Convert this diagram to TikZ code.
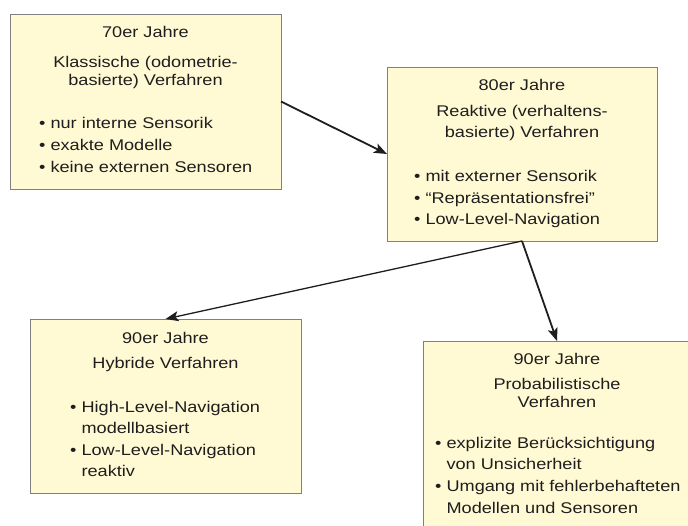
\documentclass[tikz,border=0pt]{standalone}
\usepackage{fontspec}
\setmainfont{Liberation Sans}[FakeStretch=1.17]
\usetikzlibrary{arrows.meta}
\definecolor{boxfill}{RGB}{255,249,212}
\definecolor{boxline}{RGB}{128,128,128}
\definecolor{ink}{RGB}{30,30,30}
\begin{document}
\begin{tikzpicture}[x=1pt,y=-1pt,
  box/.style={draw=boxline, fill=boxfill, line width=1pt, inner sep=0pt, outer sep=0pt},
  ttl/.style={anchor=base, inner sep=0pt, text=ink, font=\fontsize{15.5}{18}\selectfont},
  itm/.style={anchor=base west, inner sep=0pt, text=ink, font=\fontsize{15.5}{18}\selectfont},
  arr/.style={draw=ink, line width=1.8pt, -{Stealth[length=13pt,width=10pt,inset=3pt]}},
  arrthin/.style={arr, line width=1.3pt}]
\useasboundingbox (0,0) rectangle (688,525);
\clip (0,0) rectangle (688,525);
% boxes
\node[box, minimum width=271pt, minimum height=175pt] (b1) at (145.5,101.5) {};
\node[box, minimum width=270pt, minimum height=174pt] (b2) at (522,154) {};
\node[box, minimum width=271pt, minimum height=174pt] (b3) at (165.5,406) {};
\node[box, minimum width=268pt, minimum height=199pt] (b4) at (557,440.5) {};
% box 1
\node[ttl] (t1a) at (145.5,37) {70er Jahre};
\node[ttl] (t1b) at (145.5,67) {Klassische (odometrie-};
\node[ttl] (t1c) at (145.5,85) {basierte) Verfahren};
\node[itm] (i1a) at (39,128) {•\ nur interne Sensorik};
\node[itm] (i1b) at (39,150) {•\ exakte Modelle};
\node[itm] (i1c) at (39,172) {•\ keine externen Sensoren};
% box 2
\node[ttl] (t2a) at (522,90) {80er Jahre};
\node[ttl] (t2b) at (522,116) {Reaktive (verhaltens-};
\node[ttl] (t2c) at (522,137) {basierte) Verfahren};
\node[itm] (i2a) at (414,181) {•\ mit externer Sensorik};
\node[itm] (i2b) at (414,203) {•\ “Repräsentationsfrei”};
\node[itm] (i2c) at (414,224) {•\ Low-Level-Navigation};
% box 3
\node[ttl] (t3a) at (165.5,343) {90er Jahre};
\node[ttl] (t3b) at (165.5,368) {Hybride Verfahren};
\node[itm] (i3a) at (70,412) {•\ High-Level-Navigation};
\node[itm] (i3b) at (70,433) {\phantom{•\ }modellbasiert};
\node[itm] (i3c) at (70,455) {•\ Low-Level-Navigation};
\node[itm] (i3d) at (70,476) {\phantom{•\ }reaktiv};
% box 4
\node[ttl] (t4a) at (557,364) {90er Jahre};
\node[ttl] (t4b) at (557,389) {Probabilistische};
\node[ttl] (t4c) at (557,407) {Verfahren};
\node[itm] (i4a) at (435,448) {•\ explizite Berücksichtigung};
\node[itm] (i4b) at (435,469) {\phantom{•\ }von Unsicherheit};
\node[itm] (i4c) at (435,491) {•\ Umgang mit fehlerbehafteten};
\node[itm] (i4d) at (435,513) {\phantom{•\ }Modellen und Sensoren};
% arrows
\draw[arr] (b1.east) -- (b2.west);
\draw[arrthin] (b2.south) -- (b3.north);
\draw[arr] (b2.south) -- (b4.north);
\end{tikzpicture}
\end{document}
